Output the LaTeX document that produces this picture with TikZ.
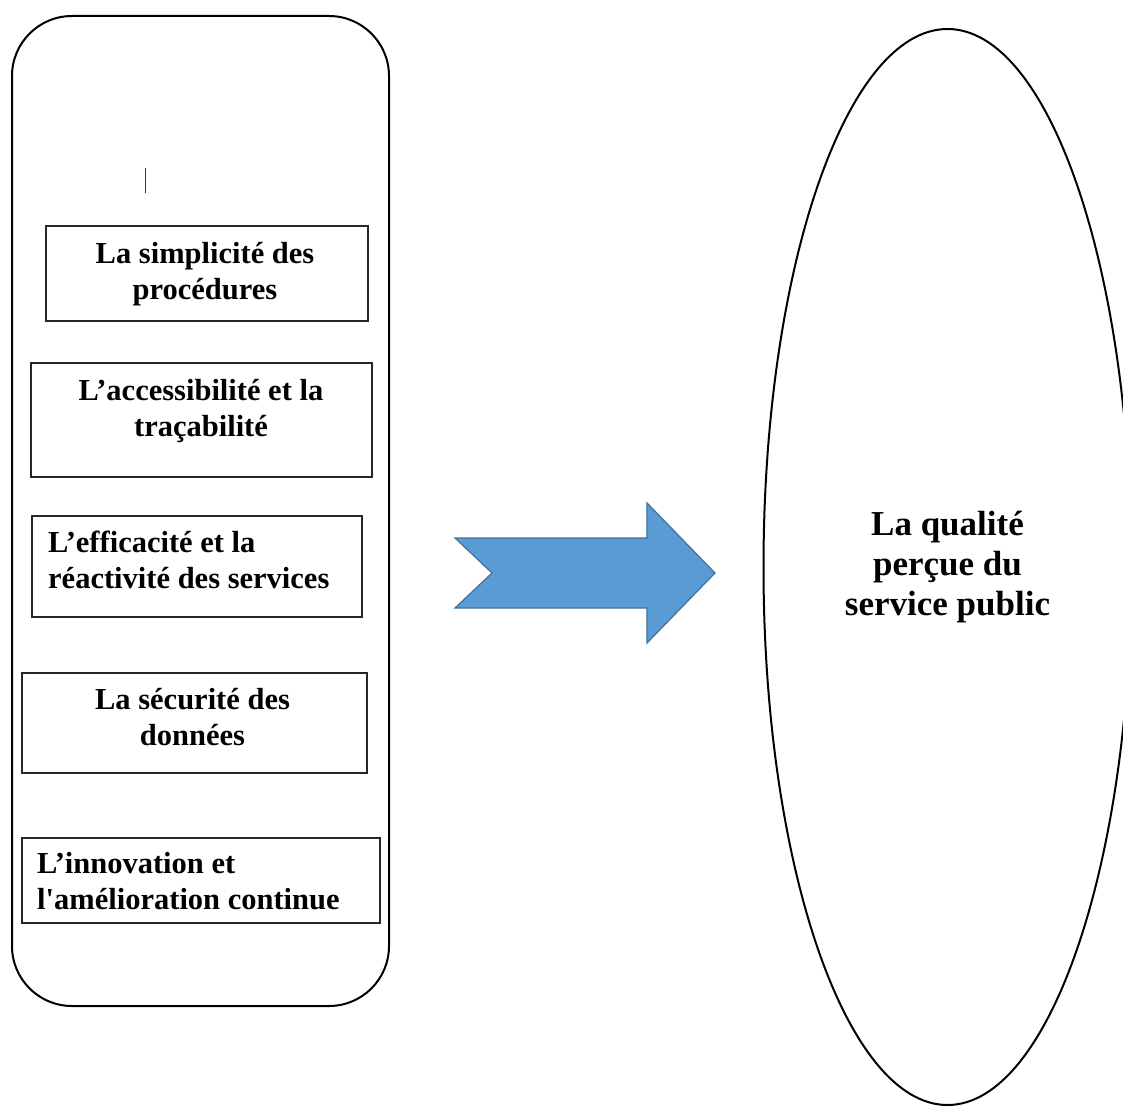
\documentclass[tikz,border=0pt]{standalone}
\usepackage{fontspec}
\setmainfont{Liberation Serif}[Ligatures=TeXOff]
\usetikzlibrary{shapes.geometric}
\definecolor{arrowfill}{HTML}{5B9BD5}
\definecolor{arrowline}{HTML}{41719C}
\tikzset{
  panel/.style={draw=black, line width=2pt, rounded corners=60pt, inner sep=0pt},
  itembox/.style={draw=black!85, line width=1.3pt, inner sep=0pt},
  itemtext/.style={font=\fontsize{30.5}{36}\selectfont\bfseries, inner sep=0pt},
  bigtext/.style={font=\fontsize{35}{40}\selectfont\bfseries, align=center, inner sep=0pt},
  ellipsenode/.style={ellipse, draw=black, line width=2pt, inner sep=0pt},
  bigarrow/.style={fill=arrowfill, draw=arrowline, line width=1.2pt, line join=miter}
}
\begin{document}
\begin{tikzpicture}[x=1pt,y=-1pt]
\useasboundingbox (0,0) rectangle (1123,1107);
\clip (0,0) rectangle (1123,1107);
% left panel
\node[panel, minimum width=377pt, minimum height=990pt] (panel) at (200.5,511) {};
% small vertical mark
\coordinate (m1) at (145,168);
\coordinate (m2) at (145,193);
\draw[line width=1pt, black!80] (m1) -- (m2);
% item boxes
\node[itembox, minimum width=322pt, minimum height=95pt] (b1) at (207,273.5) {};
\node[itembox, minimum width=341pt, minimum height=114pt] (b2) at (201.5,420) {};
\node[itembox, minimum width=330pt, minimum height=101pt] (b3) at (197,566.5) {};
\node[itembox, minimum width=345pt, minimum height=100pt] (b4) at (194.5,723) {};
\node[itembox, minimum width=358pt, minimum height=85pt] (b5) at (201,880.5) {};
% item texts
\node[itemtext, align=center] (t1) at (205,273.8) {\strut La simplicité des\\\strut procédures};
\node[itemtext, align=center] (t2) at (201,410.8) {\strut L’accessibilité et la\\\strut traçabilité};
\node[itemtext, align=left, anchor=west] (t3) at (48,562.8) {\strut L’efficacité et la\\\strut réactivité des services};
\node[itemtext, align=center] (t4) at (192.5,719.8) {\strut La sécurité des\\\strut données};
\node[itemtext, align=left, anchor=west] (t5) at (37,883.8) {\strut L’innovation et\\\strut l'amélioration continue};
% big arrow
\draw[bigarrow] (455,538) -- (647,538) -- (647,503) -- (715,573) -- (647,643) -- (647,608) -- (455,608) -- (492,573) -- cycle;
% ellipse
\node[ellipsenode, minimum width=368pt, minimum height=1076pt, bigtext] (q) at (947.5,567)
  {\strut La qualité\\\strut perçue du\\\strut service public};
\end{tikzpicture}
\end{document}
